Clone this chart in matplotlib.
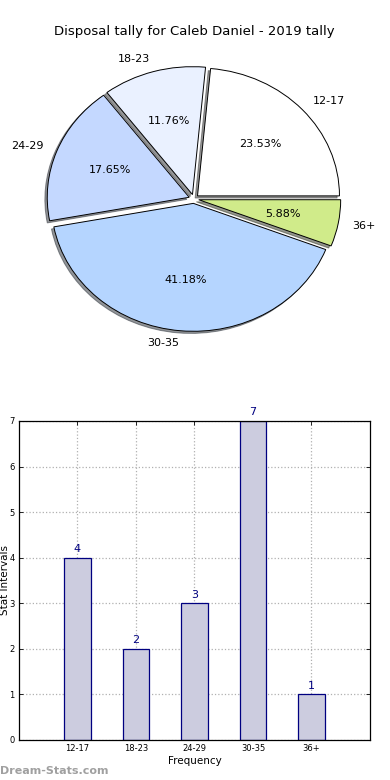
import matplotlib
matplotlib.use("Agg")
import matplotlib.pyplot as plt

categories = ["12-17", "18-23", "24-29", "30-35", "36+"]
counts = [4, 2, 3, 7, 1]
pie_colors = ["#ffffff", "#eaf1ff", "#c4d8ff", "#b5d5ff", "#d0eb8a"]
explode = [0.035, 0.035, 0.035, 0.035, 0.035]

plt.rcParams['font.family'] = ['DejaVu Sans']

fig = plt.figure(figsize=(3.9, 7.8), dpi=100)

# Pie chart
ax1 = fig.add_axes([0.042, 0.540, 0.910, 0.410])
wedges, texts, autotexts = ax1.pie(counts, labels=categories, colors=pie_colors,
                                   explode=explode, autopct='%1.2f%%',
                                   shadow={'ox': -0.012, 'oy': -0.012, 'shade': 0.8},
                                   startangle=0, textprops={'fontsize': 8},
                                   wedgeprops={'edgecolor': 'black', 'linewidth': 0.7})
ax1.set_aspect('auto')
ax1.set_xlim(-1.25, 1.25)
ax1.set_ylim(-1.25, 1.25)
ax1.set_title("Disposal tally for Caleb Daniel - 2019 tally", fontsize=9.5, pad=3)

# Bar chart
ax2 = fig.add_axes([0.0487, 0.0513, 0.9, 0.409])
x = list(range(len(categories)))
bars = ax2.bar(x, counts, width=0.45, color="#ccccdf", edgecolor="#000080", linewidth=0.9, zorder=2)
for xi, v in zip(x, counts):
    ax2.text(xi, v + 0.08, str(v), ha='center', va='bottom', color='#000080', fontsize=8)
ax2.set_xlim(-1, 5)
ax2.set_ylim(0, 7)
ax2.set_xticks(x)
ax2.set_xticklabels(categories, fontsize=6)
ax2.set_yticks(range(0, 8))
ax2.tick_params(axis='y', labelsize=6)
ax2.tick_params(direction='in', top=True, right=True, length=3, width=0.6, pad=3)
ax2.grid(True, linestyle=':', color='#b0b0b0', linewidth=0.9, zorder=0)
ax2.set_axisbelow(True)
ax2.set_xlabel("Frequency", fontsize=7.5, labelpad=2)
ax2.set_ylabel("Stat Intervals", fontsize=7.5, va='center')
ax2.yaxis.set_label_coords(-0.04, 0.5)
for s in ax2.spines.values():
    s.set_linewidth(0.9)

fig.text(0.001, 0.0115, "Dream-Stats.com", fontsize=8, color='#a0a0a0',
         fontweight='bold', ha='left', va='center')

fig.savefig("out.png", dpi=100)
